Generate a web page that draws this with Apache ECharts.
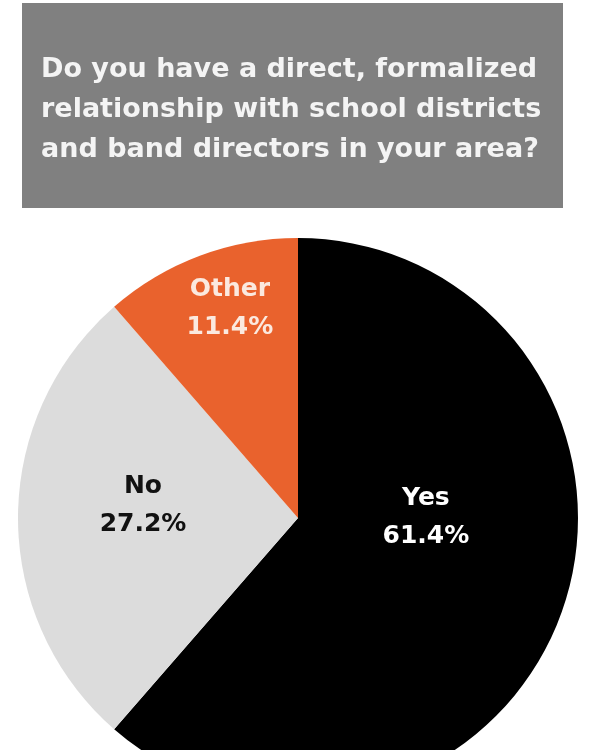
<!DOCTYPE html>
<html><head><meta charset="utf-8">
<script src="https://cdn.jsdelivr.net/npm/echarts@6/dist/echarts.min.js"></script>
<style>html,body{margin:0;padding:0;background:#fff}#c{width:600px;height:750px}</style>
</head><body><div id="c"></div>
<script>
const titleText = 'Do you have a direct, formalized\nrelationship with school districts\nand band directors in your area?';
const categories = ['Yes', 'No', 'Other'];
const values = [61.4, 27.2, 11.4];
const colors = ['#000000', '#dcdcdc', '#e9622d'];
const labelColors = ['#ffffff', '#111111', '#fbe9df'];
const labelOffsets = [[-6, -51], [-12, -13], [-18, -76]];

const chart = echarts.init(document.getElementById('c'));
chart.setOption({
  animation: false,
  backgroundColor: '#ffffff',
  graphic: [{
    type: 'rect', left: 22, top: 3, z: -10,
    shape: { width: 541, height: 205 },
    style: { fill: '#808080' }
  }],
  title: {
    text: titleText, left: 41, top: 50, padding: 0,
    textStyle: { color: '#f4f4f4', fontFamily: 'DejaVu Sans', fontWeight: 'bold', fontSize: 27, lineHeight: 40 }
  },
  series: [{
    type: 'pie',
    center: [298, 518],
    radius: [0, 280],
    startAngle: 90,
    clockwise: true,
    avoidLabelOverlap: false,
    label: {
      show: true, position: 'inside',
      formatter: p => p.name + '\n' + p.value.toFixed(1) + '%',
      fontFamily: 'DejaVu Sans', fontWeight: 'bold', fontSize: 25, lineHeight: 38
    },
    labelLine: { show: false },
    itemStyle: { borderWidth: 0 },
    emphasis: { disabled: true },
    data: categories.map((n, i) => ({
      name: n, value: values[i],
      itemStyle: { color: colors[i] },
      label: { color: labelColors[i], offset: labelOffsets[i] }
    }))
  }]
});
</script></body></html>
